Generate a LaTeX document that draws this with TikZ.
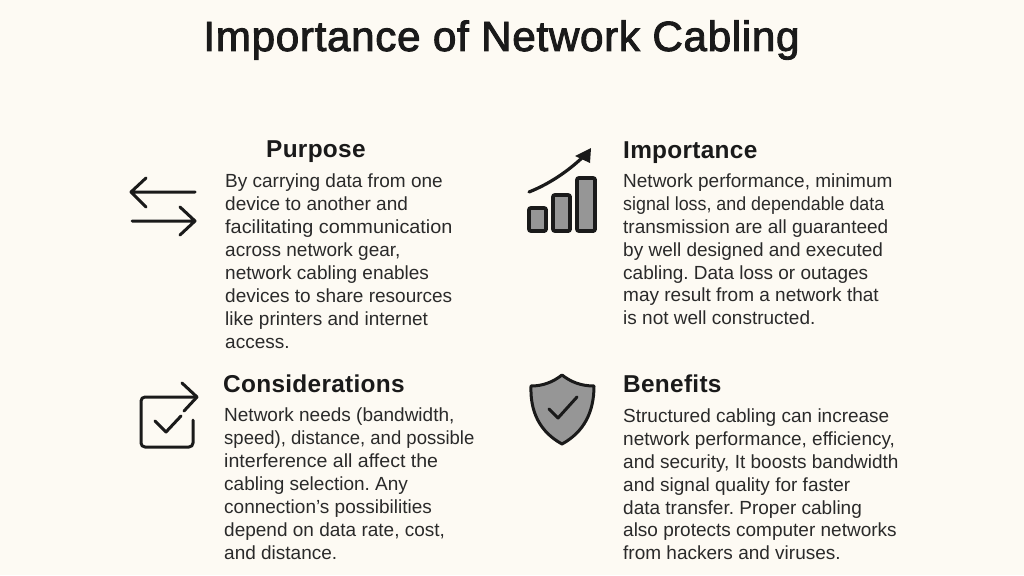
\documentclass[tikz,border=0pt]{standalone}
\usepackage{graphicx}
\usepackage{fontspec}
\setmainfont{Liberation Sans}
\newfontfamily\titlefont[FakeBold=2.2,LetterSpace=1.6]{Liberation Sans}
\newfontfamily\headfont[LetterSpace=1.2]{Liberation Sans Bold}
\frenchspacing
\definecolor{paper}{HTML}{FDFAF3}
\definecolor{ink}{HTML}{1A1A1A}
\definecolor{txt}{HTML}{2A2A2A}
\definecolor{midgray}{HTML}{969696}
\tikzset{
  body/.style={anchor=north west,inner sep=0pt,align=left,text=txt,font=\fontsize{19}{22.9}\selectfont},
  head/.style={anchor=base west,inner sep=0pt,text=ink,font=\headfont\fontsize{24.4}{26}\selectfont},
  thin icon/.style={draw=ink,line width=3pt,line cap=round,line join=round},
  bar icon/.style={draw=ink,fill=midgray,line width=3.8pt,rounded corners=2pt},
}
\begin{document}
\begin{tikzpicture}[x=1pt,y=-1pt]
\fill[paper] (0,0) rectangle (1024,575);
\useasboundingbox (0,0) rectangle (1024,575);
\node[anchor=base,inner sep=0pt,text=ink,font=\titlefont\fontsize{42.2}{44}\selectfont] (title) at (501.5,51) {Importance of Network Cabling};
\node[head] (h1) at (266,157) {Purpose};
\node[head] (h2) at (623,158) {Importance};
\node[head] (h3) at (223,392) {Considerations};
\node[head] (h4) at (623,392) {Benefits};
\node[body] (b1) at (225,174) {By carrying data from one\\device to another and\\\scalebox{1.045}[1]{facilitating communication}\\across network gear,\\network cabling enables\\devices to share resources\\like printers and internet\\access.};
\node[body] (b2) at (623,173.5) {Network performance, minimum\\\scalebox{0.94}[1]{signal loss, and dependable data}\\transmission are all guaranteed\\by well designed and executed\\cabling. Data loss or outages\\may result from a network that\\is not well constructed.};
\node[body] (b3) at (224,408) {Network needs (bandwidth,\\\scalebox{0.975}[1]{speed), distance, and possible}\\\scalebox{1.03}[1]{interference all affect the}\\cabling selection. Any\\connection’s possibilities\\depend on data rate, cost,\\and distance.};
\node[body] (b4) at (623,408.5) {Structured cabling can increase\\network performance, efficiency,\\and security, It boosts bandwidth\\and signal quality for faster\\data transfer. Proper cabling\\also protects computer networks\\from hackers and viruses.};
% swap arrows
\draw[thin icon] (195,192) -- (131,192) (146,178) -- (131,192) -- (146,207);
\draw[thin icon] (132,221) -- (195,221) (180,207) -- (195,221) -- (180,235);
% chart
\draw[bar icon] (529,208) rectangle (546,231);
\draw[bar icon] (553,195) rectangle (570,231);
\draw[bar icon] (577,178) rectangle (595,231);
\draw[draw=ink,line width=3.2pt,line cap=round] (529,192) .. controls (549,184) and (567,172) .. (583,157);
\fill[ink] (591,148) -- (575,156) -- (590,163) -- cycle;
% checkbox
\draw[thin icon,rounded corners=4pt] (193,420) -- (193,447) -- (141,447) -- (141,397) -- (197,397);
\draw[thin icon] (182,383) -- (197,397) -- (184,411);
\draw[thin icon] (155,421) -- (166,432) -- (181,416);
% shield
\draw[draw=ink,fill=midgray,line width=3pt,line join=round] (562,375) .. controls (553,382) and (543,386) .. (531,386) .. controls (530,412) and (540,432) .. (562,444) .. controls (584,432) and (594,412) .. (594,386) .. controls (581,386) and (571,382) .. (562,375) -- cycle;
\draw[thin icon] (549,409) -- (558,418) -- (577,397);
\end{tikzpicture}
\end{document}
